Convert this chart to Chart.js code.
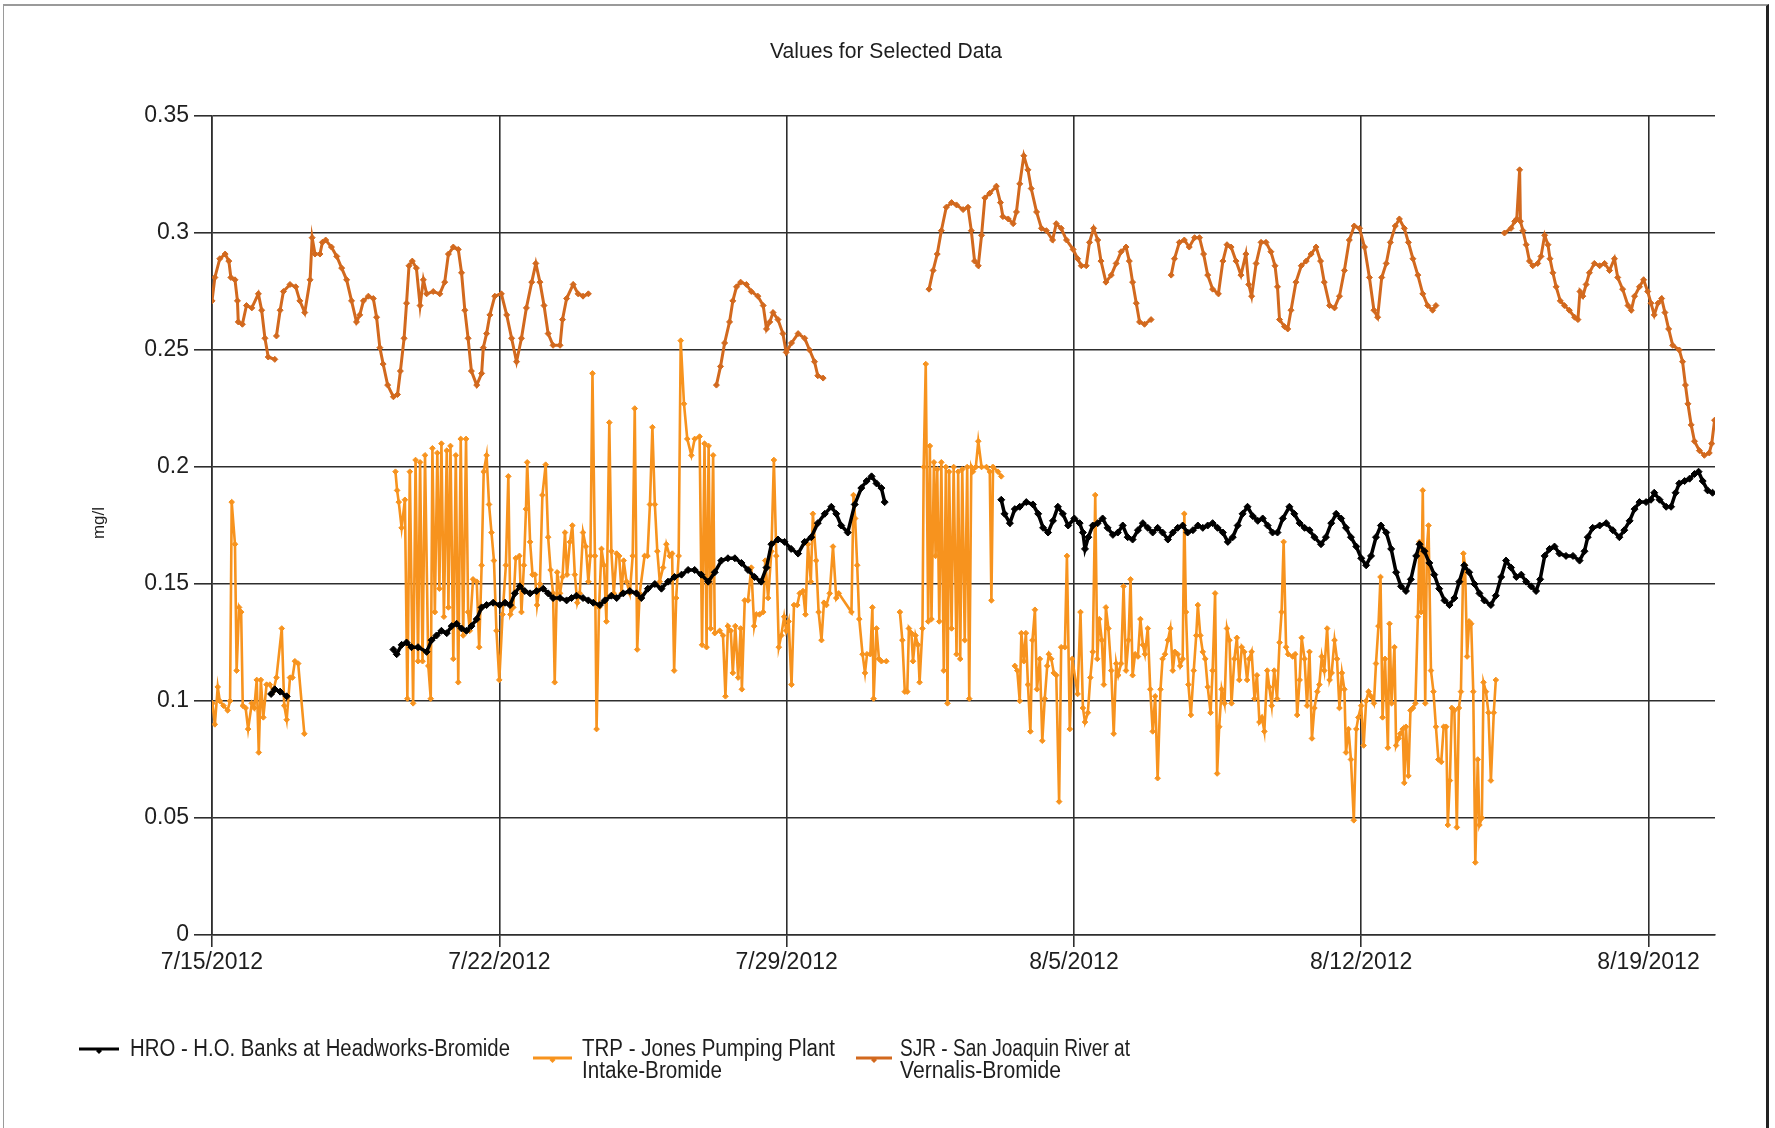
<!DOCTYPE html>
<html>
<head>
<meta charset="utf-8">
<title>Values for Selected Data</title>
<script src="https://cdn.jsdelivr.net/npm/chart.js@4.4.1/dist/chart.umd.min.js"></script>
<style>
  html, body { margin: 0; padding: 0; background: #fff; overflow: hidden; }
  #frame {
    position: absolute; left: 3px; top: 4px; width: 1762px; height: 1140px;
    border-top: 2px solid #9a9a9a; border-left: 1px solid #9a9a9a; border-right: 3px solid #222;
  }
  #chart { position: absolute; left: 0; top: 0; }
</style>
</head>
<body>
<div id="frame"></div>
<canvas id="chart" width="1775" height="1128"></canvas>
<script>
// ── Axis ticks ── (x values are days after 7/15/2012 00:00)
var xTickDays = [0, 7, 14, 21, 28, 35];
var xTickLabels = ['7/15/2012', '7/22/2012', '7/29/2012', '8/5/2012', '8/12/2012', '8/19/2012'];
var yTickValues = [0, 0.05, 0.1, 0.15, 0.2, 0.25, 0.3, 0.35];
var yTickLabels = ['0', '0.05', '0.1', '0.15', '0.2', '0.25', '0.3', '0.35'];

var seriesLabels = [
  ['HRO - H.O. Banks at Headworks-Bromide'],
  ['TRP - Jones Pumping Plant', 'Intake-Bromide'],
  ['SJR - San Joaquin River at', 'Vernalis-Bromide']
];

// ── HRO (black) ── null = gap in record
var hroDays = [1.44, 1.53, 1.66, 1.82, 3.0,
  4.42, 4.50, 4.62, 4.74, 4.86, 5.02, 5.23, 5.35, 5.47, 5.59, 5.72, 5.84, 5.96, 6.08, 6.20, 6.32, 6.45, 6.57, 6.69, 6.85,
  7.01, 7.14, 7.26, 7.38, 7.50, 7.62, 7.75, 7.91, 8.07, 8.19, 8.31, 8.48, 8.64, 8.76, 8.88, 9.04, 9.17, 9.29, 9.45, 9.57,
  9.73, 9.86, 10.02, 10.18, 10.34, 10.46, 10.62, 10.79, 10.95, 11.11, 11.27, 11.44, 11.60, 11.76, 11.92, 12.09, 12.25,
  12.41, 12.57, 12.74, 12.90, 13.06, 13.22, 13.38, 13.51, 13.63, 13.79, 13.95, 14.11, 14.28, 14.44, 14.60, 14.76, 14.93,
  15.09, 15.21, 15.33, 15.49, 15.66, 15.82, 15.95, 16.07, 16.19, 16.31, 16.39, 17.8,
  19.23, 19.31, 19.44, 19.56, 19.68, 19.84, 20.00, 20.13, 20.25, 20.37, 20.49, 20.61, 20.73, 20.86, 21.01, 21.14, 21.22,
  21.27, 21.35, 21.46, 21.58, 21.70, 21.82, 21.95, 22.07, 22.19, 22.31, 22.43, 22.56, 22.68, 22.80, 22.92, 23.04, 23.16,
  23.29, 23.41, 23.53, 23.65, 23.77, 23.90, 24.02, 24.14, 24.26, 24.38, 24.50, 24.63, 24.75, 24.87, 24.99, 25.11, 25.23,
  25.36, 25.48, 25.60, 25.72, 25.84, 25.96, 26.09, 26.25, 26.37, 26.50, 26.62, 26.74, 26.86, 27.02, 27.14, 27.27, 27.39,
  27.51, 27.63, 27.75, 27.88, 28.00, 28.12, 28.24, 28.36, 28.48, 28.61, 28.73, 28.85, 28.97, 29.09, 29.21, 29.34, 29.42,
  29.54, 29.66, 29.78, 29.90, 30.03, 30.15, 30.27, 30.39, 30.51, 30.63, 30.76, 30.88, 31.00, 31.16, 31.28, 31.41, 31.53,
  31.65, 31.78, 31.90, 32.02, 32.14, 32.26, 32.36, 32.47, 32.59, 32.71, 32.83, 32.99, 33.16, 33.32, 33.44, 33.52, 33.64,
  33.81, 33.97, 34.13, 34.29, 34.41, 34.54, 34.66, 34.78, 34.94, 35.06, 35.14, 35.27, 35.43, 35.55, 35.66, 35.75, 35.88,
  36.00, 36.12, 36.22, 36.32, 36.44, 36.56];
var hroValues = [0.103, 0.105, 0.104, 0.102, null,
  0.122, 0.120, 0.124, 0.125, 0.123, 0.123, 0.121, 0.126, 0.128, 0.130, 0.129, 0.132, 0.133, 0.131, 0.130, 0.132, 0.135, 0.140, 0.141, 0.142,
  0.141, 0.142, 0.141, 0.146, 0.149, 0.147, 0.146, 0.147, 0.148, 0.146, 0.144, 0.144, 0.143, 0.144, 0.145, 0.144, 0.143, 0.142, 0.141, 0.143,
  0.145, 0.144, 0.146, 0.147, 0.146, 0.144, 0.148, 0.150, 0.148, 0.151, 0.153, 0.154, 0.156, 0.156, 0.154, 0.151, 0.155,
  0.160, 0.161, 0.161, 0.159, 0.156, 0.153, 0.151, 0.157, 0.167, 0.169, 0.168, 0.165, 0.163, 0.168, 0.170, 0.176, 0.180,
  0.183, 0.180, 0.175, 0.172, 0.184, 0.191, 0.194, 0.196, 0.193, 0.191, 0.185, null,
  0.186, 0.180, 0.176, 0.182, 0.183, 0.185, 0.184, 0.180, 0.174, 0.172, 0.177, 0.183, 0.180, 0.175, 0.178, 0.176, 0.172,
  0.165, 0.170, 0.175, 0.176, 0.178, 0.174, 0.171, 0.172, 0.175, 0.170, 0.169, 0.173, 0.176, 0.174, 0.172, 0.174, 0.172,
  0.169, 0.172, 0.174, 0.175, 0.172, 0.173, 0.175, 0.174, 0.175, 0.176, 0.174, 0.172, 0.168, 0.170, 0.175, 0.180, 0.183,
  0.179, 0.177, 0.178, 0.175, 0.172, 0.172, 0.178, 0.183, 0.180, 0.176, 0.174, 0.173, 0.170, 0.167, 0.170, 0.176, 0.180,
  0.178, 0.174, 0.170, 0.166, 0.161, 0.158, 0.162, 0.170, 0.175, 0.172, 0.165, 0.155, 0.149, 0.147, 0.152, 0.162, 0.167,
  0.164, 0.159, 0.154, 0.148, 0.143, 0.141, 0.144, 0.151, 0.158, 0.155, 0.150, 0.146, 0.143, 0.141, 0.145, 0.153, 0.160,
  0.157, 0.153, 0.154, 0.151, 0.149, 0.147, 0.152, 0.162, 0.165, 0.166, 0.163, 0.162, 0.162, 0.160, 0.164, 0.170, 0.174,
  0.175, 0.176, 0.173, 0.170, 0.173, 0.177, 0.182, 0.185, 0.185, 0.186, 0.189, 0.186, 0.183, 0.183, 0.189, 0.193, 0.194,
  0.195, 0.197, 0.198, 0.194, 0.190, 0.189];

// ── TRP (bright orange) ──
var trpDays = [0.01, 0.07, 0.14, 0.19, 0.28, 0.38, 0.44, 0.48, 0.56, 0.60, 0.66, 0.71, 0.75, 0.82, 0.88, 0.97, 1.03, 1.09,
  1.14, 1.19, 1.25, 1.33, 1.41, 1.49, 1.57, 1.70, 1.76, 1.82, 1.90, 1.96, 2.02, 2.10, 2.25, 3.3,
  4.47, 4.51, 4.55, 4.62, 4.70, 4.76, 4.82, 4.90, 4.96, 5.02, 5.07, 5.13, 5.19, 5.27, 5.33, 5.37, 5.43, 5.49, 5.54, 5.59,
  5.65, 5.72, 5.76, 5.81, 5.88, 5.94, 6.00, 6.06, 6.12, 6.19, 6.24, 6.28, 6.36, 6.45, 6.51, 6.57, 6.62, 6.69, 6.75, 6.81,
  6.87, 6.93, 7.00, 7.08, 7.16, 7.22, 7.27, 7.34, 7.40, 7.49, 7.54, 7.60, 7.65, 7.68, 7.75, 7.81, 7.87, 7.92, 7.99, 8.05,
  8.13, 8.19, 8.25, 8.31, 8.35, 8.41, 8.48, 8.54, 8.60, 8.65, 8.72, 8.78, 8.84, 8.90, 8.96, 9.04, 9.11, 9.17, 9.22, 9.27,
  9.33, 9.37, 9.43, 9.49, 9.55, 9.61, 9.68, 9.73, 9.79, 9.86, 9.92, 9.98, 10.03, 10.10, 10.18, 10.25, 10.30, 10.36, 10.42,
  10.54, 10.61, 10.67, 10.73, 10.79, 10.85, 10.91, 10.99, 11.07, 11.15, 11.21, 11.26, 11.31, 11.37, 11.42, 11.50, 11.58,
  11.68, 11.76, 11.88, 11.94, 12.00, 12.05, 12.10, 12.15, 12.21, 12.25, 12.37, 12.45, 12.51, 12.57, 12.64, 12.69, 12.75,
  12.82, 12.88, 12.91, 12.98, 13.06, 13.14, 13.21, 13.26, 13.34, 13.43, 13.48, 13.55, 13.63, 13.69, 13.75, 13.81, 13.87,
  13.94, 13.99, 14.05, 14.12, 14.18, 14.26, 14.32, 14.40, 14.46, 14.52, 14.59, 14.64, 14.72, 14.78, 14.85, 14.91, 14.97,
  15.05, 15.13, 15.21, 15.27, 15.58, 15.63, 15.67, 15.72, 15.77, 15.85, 15.91, 15.96, 16.04, 16.09, 16.12, 16.19, 16.25,
  16.31, 16.43, 16.6,
  16.76, 16.82, 16.88, 16.94, 16.98, 17.04, 17.08, 17.14, 17.20, 17.24, 17.31, 17.34, 17.39, 17.45, 17.49, 17.53, 17.59,
  17.63, 17.67, 17.72, 17.77, 17.83, 17.88, 17.92, 17.96, 18.02, 18.07, 18.14, 18.18, 18.23, 18.28, 18.34, 18.40, 18.45,
  18.50, 18.54, 18.61, 18.67, 18.75, 18.87, 18.95, 18.99, 19.03, 19.15, 19.23, 19.4,
  19.56, 19.62, 19.68, 19.72, 19.78, 19.83, 19.88, 19.94, 19.99, 20.05, 20.10, 20.17, 20.23, 20.29, 20.35, 20.39, 20.45,
  20.51, 20.57, 20.64, 20.69, 20.78, 20.83, 20.90, 20.96, 21.09, 21.16, 21.22, 21.27, 21.34, 21.40, 21.46, 21.52, 21.57,
  21.62, 21.68, 21.73, 21.78, 21.84, 21.91, 21.97, 22.03, 22.08, 22.15, 22.21, 22.27, 22.33, 22.38, 22.43, 22.49, 22.56,
  22.62, 22.68, 22.73, 22.80, 22.86, 22.92, 22.98, 23.04, 23.11, 23.16, 23.22, 23.29, 23.35, 23.41, 23.46, 23.53, 23.59,
  23.65, 23.69, 23.73, 23.79, 23.85, 23.92, 23.98, 24.02, 24.08, 24.14, 24.20, 24.26, 24.33, 24.38, 24.44, 24.49, 24.54,
  24.60, 24.67, 24.73, 24.79, 24.84, 24.91, 24.97, 25.03, 25.09, 25.15, 25.22, 25.27, 25.33, 25.40, 25.46, 25.52, 25.58,
  25.64, 25.71, 25.76, 25.82, 25.88, 25.95, 26.01, 26.06, 26.11, 26.17, 26.22, 26.33, 26.39, 26.44, 26.50, 26.55, 26.62,
  26.68, 26.74, 26.80, 26.86, 26.93, 26.98, 27.04, 27.10, 27.17, 27.23, 27.28, 27.35, 27.41, 27.47, 27.53, 27.59, 27.63,
  27.69, 27.75, 27.82, 27.88, 27.93, 28.00, 28.06, 28.12, 28.18, 28.24, 28.31, 28.36, 28.42, 28.47, 28.52, 28.58, 28.65,
  28.69, 28.74, 28.81, 28.85, 28.91, 28.95, 29.01, 29.05, 29.09, 29.15, 29.20, 29.26, 29.32, 29.38, 29.42, 29.46, 29.50,
  29.56, 29.60, 29.64, 29.70, 29.76, 29.82, 29.88, 29.95, 30.01, 30.07, 30.11, 30.16, 30.21, 30.27, 30.33, 30.38, 30.43,
  30.49, 30.53, 30.58, 30.63, 30.68, 30.73, 30.78, 30.84, 30.88, 30.94, 30.98, 31.04, 31.10, 31.16, 31.23, 31.28];
var trpValues = [0.099, 0.090, 0.106, 0.100, 0.098, 0.096, 0.100, 0.185, 0.167, 0.113, 0.140, 0.138, 0.098, 0.097, 0.088, 0.099, 0.097, 0.109,
  0.078, 0.109, 0.093, 0.107, 0.107, 0.104, 0.110, 0.131, 0.098, 0.092, 0.110, 0.110, 0.117, 0.116, 0.086, null,
  0.198, 0.190, 0.185, 0.174, 0.186, 0.101, 0.198, 0.099, 0.203, 0.117, 0.202, 0.117, 0.205, 0.115, 0.101, 0.208, 0.138, 0.206, 0.148, 0.210,
  0.136, 0.207, 0.140, 0.209, 0.118, 0.205, 0.108, 0.212, 0.128, 0.212, 0.138, 0.130, 0.152, 0.151, 0.123, 0.158, 0.198, 0.205, 0.184, 0.172,
  0.160, 0.130, 0.109, 0.137, 0.158, 0.196, 0.137, 0.140, 0.161, 0.162, 0.138, 0.158, 0.182, 0.202, 0.168, 0.154, 0.154, 0.141, 0.150, 0.188,
  0.201, 0.170, 0.156, 0.146, 0.108, 0.155, 0.146, 0.153, 0.172, 0.154, 0.168, 0.175, 0.154, 0.142, 0.146, 0.172, 0.166, 0.151, 0.162, 0.240,
  0.162, 0.088, 0.140, 0.165, 0.158, 0.134, 0.219, 0.164, 0.146, 0.163, 0.162, 0.146, 0.160, 0.151, 0.146, 0.162, 0.225, 0.122, 0.146,
  0.162, 0.162, 0.184, 0.217, 0.184, 0.164, 0.151, 0.157, 0.167, 0.162, 0.163, 0.113, 0.144, 0.162, 0.254, 0.227, 0.212,
  0.205, 0.212, 0.213, 0.124, 0.210, 0.123, 0.209, 0.131, 0.205, 0.129, 0.130, 0.128, 0.102, 0.132, 0.130, 0.112, 0.132,
  0.110, 0.131, 0.105, 0.143, 0.143, 0.157, 0.132, 0.137, 0.137, 0.138, 0.160, 0.144, 0.164, 0.203, 0.162, 0.123, 0.128,
  0.136, 0.130, 0.134, 0.107, 0.141, 0.141, 0.146, 0.147, 0.137, 0.167, 0.151, 0.180, 0.160, 0.138, 0.126, 0.142, 0.141,
  0.146, 0.166, 0.144, 0.146, 0.138, 0.188, 0.178, 0.158, 0.135, 0.120, 0.112, 0.120, 0.120, 0.140, 0.101, 0.131, 0.118,
  0.117, 0.117, null,
  0.138, 0.126, 0.104, 0.104, 0.131, 0.129, 0.117, 0.128, 0.124, 0.108, 0.131, 0.200, 0.244, 0.134, 0.209, 0.135, 0.202,
  0.162, 0.199, 0.134, 0.202, 0.113, 0.200, 0.099, 0.198, 0.131, 0.200, 0.120, 0.198, 0.118, 0.199, 0.126, 0.200, 0.101,
  0.200, 0.198, 0.200, 0.211, 0.200, 0.200, 0.198, 0.143, 0.200, 0.198, 0.196, null,
  0.115, 0.113, 0.100, 0.129, 0.117, 0.129, 0.107, 0.087, 0.126, 0.139, 0.105, 0.118, 0.083, 0.101, 0.115, 0.120, 0.118,
  0.112, 0.111, 0.057, 0.123, 0.123, 0.162, 0.088, 0.118, 0.103, 0.138, 0.097, 0.091, 0.095, 0.110, 0.121, 0.188, 0.118,
  0.135, 0.126, 0.107, 0.140, 0.131, 0.113, 0.086, 0.116, 0.111, 0.116, 0.149, 0.113, 0.126, 0.152, 0.111, 0.120, 0.119,
  0.135, 0.124, 0.120, 0.131, 0.105, 0.087, 0.102, 0.067, 0.105, 0.118, 0.120, 0.126, 0.131, 0.113, 0.121, 0.120, 0.115,
  0.118, 0.180, 0.138, 0.107, 0.094, 0.113, 0.128, 0.141, 0.128, 0.121, 0.118, 0.106, 0.095, 0.113, 0.146, 0.069, 0.089,
  0.105, 0.099, 0.131, 0.126, 0.099, 0.118, 0.127, 0.109, 0.123, 0.121, 0.109, 0.118, 0.121, 0.101, 0.111, 0.091, 0.093,
  0.087, 0.113, 0.106, 0.098, 0.113, 0.101, 0.125, 0.138, 0.168, 0.123, 0.120, 0.119, 0.120, 0.094, 0.109, 0.127, 0.118,
  0.098, 0.121, 0.084, 0.097, 0.104, 0.107, 0.119, 0.113, 0.131, 0.109, 0.112, 0.126, 0.118, 0.097, 0.112, 0.105, 0.078,
  0.088, 0.075, 0.049, 0.088, 0.093, 0.098, 0.081, 0.100, 0.104, 0.102, 0.099, 0.116, 0.132, 0.153, 0.093, 0.118, 0.080,
  0.133, 0.099, 0.123, 0.081, 0.084, 0.086, 0.088, 0.065, 0.089, 0.068, 0.096, 0.097, 0.099, 0.136, 0.168, 0.138, 0.190,
  0.099, 0.165, 0.175, 0.113, 0.104, 0.089, 0.075, 0.074, 0.089, 0.089, 0.047, 0.066, 0.097, 0.096, 0.046, 0.097, 0.104,
  0.163, 0.158, 0.119, 0.134, 0.133, 0.104, 0.031, 0.075, 0.047, 0.050, 0.108, 0.104, 0.095, 0.066, 0.095, 0.109];

// ── SJR (dark orange) ──
var sjrDays = [0.00, 0.07, 0.19, 0.32, 0.41, 0.46, 0.56, 0.62, 0.64, 0.74, 0.84, 0.97, 1.13, 1.21, 1.29, 1.37, 1.53, 1.55,
  1.57, 1.66, 1.74, 1.90, 2.04, 2.14, 2.26, 2.39, 2.44, 2.51, 2.63, 2.69, 2.77, 2.91, 3.04, 3.16, 3.28, 3.40, 3.52, 3.60,
  3.69, 3.81, 3.93, 4.01, 4.09, 4.17, 4.28, 4.42, 4.52, 4.59, 4.68, 4.74, 4.80, 4.88, 4.98, 5.07, 5.15, 5.23, 5.39, 5.55,
  5.67, 5.76, 5.88, 6.00, 6.08, 6.16, 6.24, 6.32, 6.45, 6.57, 6.61, 6.69, 6.77, 6.89, 7.05, 7.18, 7.30, 7.42, 7.54, 7.66,
  7.79, 7.89, 7.99, 8.09, 8.19, 8.31, 8.48, 8.54, 8.64, 8.80, 8.92, 9.04, 9.17, 10.5,
  12.29, 12.39, 12.49, 12.61, 12.69, 12.78, 12.88, 13.02, 13.14, 13.30, 13.43, 13.51, 13.59, 13.67, 13.79, 13.91, 13.99,
  14.12, 14.28, 14.44, 14.56, 14.68, 14.76, 14.89, 16.0,
  17.47, 17.57, 17.67, 17.77, 17.89, 18.02, 18.14, 18.30, 18.42, 18.50, 18.58, 18.67, 18.75, 18.83, 18.95, 19.11, 19.21,
  19.27, 19.40, 19.52, 19.60, 19.68, 19.78, 19.88, 19.96, 20.09, 20.21, 20.33, 20.48, 20.57, 20.69, 20.82, 20.98, 21.09,
  21.18, 21.30, 21.38, 21.48, 21.58, 21.66, 21.78, 21.91, 22.03, 22.15, 22.27, 22.35, 22.43, 22.52, 22.60, 22.72, 22.88, 23.1,
  23.37, 23.45, 23.57, 23.69, 23.81, 23.94, 24.06, 24.16, 24.26, 24.38, 24.52, 24.63, 24.73, 24.83, 24.95, 25.07, 25.19,
  25.26, 25.33, 25.44, 25.56, 25.68, 25.80, 25.90, 25.96, 26.01, 26.13, 26.21, 26.29, 26.41, 26.54, 26.66, 26.78, 26.90,
  27.01, 27.10, 27.23, 27.35, 27.47, 27.59, 27.71, 27.83, 27.96, 28.08, 28.20, 28.31, 28.40, 28.50, 28.61, 28.71, 28.83,
  28.93, 29.05, 29.15, 29.26, 29.38, 29.50, 29.62, 29.74, 29.82, 30.5,
  31.49, 31.65, 31.74, 31.79, 31.86, 31.88, 31.94, 32.02, 32.10, 32.18, 32.30, 32.38, 32.47, 32.55, 32.60, 32.67, 32.75,
  32.85, 32.95, 33.07, 33.20, 33.28, 33.33, 33.40, 33.48, 33.56, 33.68, 33.81, 33.93, 34.05, 34.17, 34.25, 34.37, 34.50,
  34.58, 34.66, 34.78, 34.88, 34.98, 35.06, 35.14, 35.23, 35.32, 35.40, 35.49, 35.59, 35.75, 35.83, 35.90, 35.96, 36.04,
  36.12, 36.24, 36.36, 36.48, 36.54, 36.61];
var sjrValues = [0.271, 0.281, 0.289, 0.291, 0.288, 0.281, 0.280, 0.271, 0.262, 0.261, 0.269, 0.268, 0.274, 0.267, 0.255, 0.247, 0.246, null,
  0.256, 0.267, 0.275, 0.278, 0.277, 0.271, 0.266, 0.280, 0.298, 0.291, 0.291, 0.296, 0.297, 0.294, 0.290, 0.285, 0.280, 0.271, 0.262, 0.265,
  0.271, 0.273, 0.272, 0.264, 0.251, 0.244, 0.235, 0.230, 0.231, 0.241, 0.255, 0.270, 0.286, 0.288, 0.285, 0.269, 0.280, 0.274, 0.275, 0.274,
  0.279, 0.291, 0.294, 0.293, 0.283, 0.267, 0.255, 0.241, 0.235, 0.240, 0.251, 0.257, 0.265, 0.273, 0.274, 0.265, 0.255, 0.245, 0.255, 0.268,
  0.279, 0.287, 0.279, 0.269, 0.257, 0.252, 0.252, 0.263, 0.272, 0.278, 0.274, 0.273, 0.274, null,
  0.235, 0.243, 0.253, 0.262, 0.271, 0.277, 0.279, 0.278, 0.275, 0.273, 0.269, 0.259, 0.262, 0.266, 0.263, 0.257, 0.249,
  0.253, 0.257, 0.255, 0.250, 0.245, 0.239, 0.238, null,
  0.276, 0.284, 0.291, 0.301, 0.311, 0.313, 0.312, 0.310, 0.311, 0.301, 0.288, 0.286, 0.299, 0.315, 0.317, 0.320, 0.313,
  0.307, 0.306, 0.304, 0.309, 0.321, 0.333, 0.327, 0.319, 0.309, 0.302, 0.301, 0.297, 0.304, 0.302, 0.297, 0.293, 0.289,
  0.286, 0.286, 0.296, 0.302, 0.297, 0.288, 0.279, 0.282, 0.287, 0.292, 0.294, 0.288, 0.279, 0.270, 0.262, 0.261, 0.263, null,
  0.282, 0.289, 0.296, 0.297, 0.294, 0.298, 0.298, 0.291, 0.282, 0.276, 0.274, 0.288, 0.295, 0.294, 0.288, 0.282, 0.291,
  0.278, 0.273, 0.287, 0.296, 0.296, 0.292, 0.286, 0.277, 0.263, 0.260, 0.259, 0.267, 0.279, 0.286, 0.288, 0.291, 0.294,
  0.288, 0.279, 0.269, 0.268, 0.273, 0.284, 0.297, 0.303, 0.302, 0.294, 0.281, 0.267, 0.264, 0.281, 0.287, 0.296, 0.303,
  0.306, 0.302, 0.296, 0.289, 0.282, 0.274, 0.269, 0.267, 0.269, null,
  0.300, 0.302, 0.305, 0.306, 0.327, 0.305, 0.301, 0.295, 0.288, 0.286, 0.287, 0.290, 0.299, 0.295, 0.289, 0.283, 0.277,
  0.271, 0.269, 0.267, 0.264, 0.263, 0.275, 0.273, 0.278, 0.283, 0.287, 0.286, 0.287, 0.284, 0.289, 0.281, 0.276, 0.269,
  0.267, 0.273, 0.277, 0.280, 0.275, 0.270, 0.265, 0.270, 0.272, 0.266, 0.259, 0.252, 0.250, 0.245, 0.235, 0.227, 0.218,
  0.211, 0.207, 0.205, 0.206, 0.210, 0.220];

var xMax = 36.62;

var HRO_COLOR = '#000000';
var TRP_COLOR = '#F7931E';
var SJR_COLOR = '#D2691E';
var GRID = '#2e2e2e';
var TEXT = '#1e1e1e';

function toPoints(days, vals) {
  return days.map(function (d, i) { return { x: d, y: vals[i] }; });
}

// title, y axis caption and the two-line legend under the plot
var decorations = {
  id: 'decorations',
  afterDraw: function (chart) {
    var ctx = chart.ctx;
    ctx.save();
    ctx.fillStyle = TEXT;
    ctx.textBaseline = 'middle';

    ctx.font = '22px "Liberation Sans", Arial, sans-serif';
    ctx.textAlign = 'center';
    ctx.fillText('Values for Selected Data', 886, 52, 232);

    ctx.save();
    ctx.translate(99, 523);
    ctx.rotate(-Math.PI / 2);
    ctx.font = '17px "Liberation Sans", Arial, sans-serif';
    ctx.fillText('mg/l', 0, 0);
    ctx.restore();

    var items = [
      { color: HRO_COLOR, x0: 79, x1: 119, ly: 1049, tx: 130, widths: [380] },
      { color: TRP_COLOR, x0: 533, x1: 572, ly: 1058, tx: 582, widths: [253, 140] },
      { color: SJR_COLOR, x0: 856, x1: 892, ly: 1058, tx: 900, widths: [230, 161] }
    ];
    ctx.textAlign = 'left';
    ctx.font = '23px "Liberation Sans", Arial, sans-serif';
    items.forEach(function (it, i) {
      ctx.strokeStyle = it.color;
      ctx.lineWidth = 3;
      ctx.beginPath();
      ctx.moveTo(it.x0, it.ly);
      ctx.lineTo(it.x1, it.ly);
      ctx.stroke();
      ctx.fillStyle = it.color;
      var cx = (it.x0 + it.x1) / 2;
      ctx.beginPath();
      ctx.moveTo(cx, it.ly - 1);
      ctx.lineTo(cx + 3, it.ly + 2);
      ctx.lineTo(cx, it.ly + 5);
      ctx.lineTo(cx - 3, it.ly + 2);
      ctx.closePath();
      ctx.fill();
      ctx.fillStyle = TEXT;
      seriesLabels[i].forEach(function (line, k) {
        ctx.fillText(line, it.tx, 1050 + k * 22, it.widths[k]);
      });
    });
    ctx.restore();
  }
};

var ctx = document.getElementById('chart').getContext('2d');
var chart = new Chart(ctx, {
  type: 'line',
  data: {
    datasets: [
      {
        label: seriesLabels[0].join(' '),
        data: toPoints(hroDays, hroValues),
        borderColor: HRO_COLOR,
        backgroundColor: HRO_COLOR,
        borderWidth: 3.5,
        pointStyle: 'rectRot',
        pointRadius: 3.5,
        pointBorderWidth: 1,
        pointBackgroundColor: HRO_COLOR,
        pointBorderColor: HRO_COLOR
      },
      {
        label: seriesLabels[1].join(' '),
        data: toPoints(trpDays, trpValues),
        borderColor: TRP_COLOR,
        backgroundColor: TRP_COLOR,
        borderWidth: 2.6,
        pointStyle: 'rectRot',
        pointRadius: 2.8,
        pointBorderWidth: 1,
        pointBackgroundColor: TRP_COLOR,
        pointBorderColor: TRP_COLOR
      },
      {
        label: seriesLabels[2].join(' '),
        data: toPoints(sjrDays, sjrValues),
        borderColor: SJR_COLOR,
        backgroundColor: SJR_COLOR,
        borderWidth: 3,
        pointStyle: 'rectRot',
        pointRadius: 3,
        pointBorderWidth: 1,
        pointBackgroundColor: SJR_COLOR,
        pointBorderColor: SJR_COLOR
      }
    ]
  },
  options: {
    responsive: false,
    animation: false,
    spanGaps: false,
    layout: { padding: { left: 122, top: 116, right: 60, bottom: 133 } },
    plugins: {
      legend: { display: false },
      title: { display: false },
      tooltip: { enabled: false }
    },
    elements: { line: { tension: 0 } },
    scales: {
      x: {
        type: 'linear',
        min: 0,
        max: xMax,
        afterBuildTicks: function (scale) {
          scale.ticks = xTickDays.map(function (v) { return { value: v }; });
        },
        afterFit: function (scale) { scale.height = 60; },
        grid: { color: GRID, lineWidth: 1.6, tickLength: 12, tickColor: GRID },
        border: { display: true, color: GRID, width: 1.6 },
        ticks: {
          color: TEXT,
          padding: 2,
          maxRotation: 0,
          font: { family: '"Liberation Sans", Arial, sans-serif', size: 23 },
          callback: function (value) {
            var i = xTickDays.indexOf(value);
            return i >= 0 ? xTickLabels[i] : '';
          }
        }
      },
      y: {
        type: 'linear',
        min: 0,
        max: 0.35,
        afterBuildTicks: function (scale) {
          scale.ticks = yTickValues.map(function (v) { return { value: v }; });
        },
        afterFit: function (scale) { scale.width = 90; },
        grid: { color: GRID, lineWidth: 1.6, tickLength: 18, tickColor: GRID },
        border: { display: true, color: GRID, width: 1.6 },
        ticks: {
          color: TEXT,
          padding: 5,
          font: { family: '"Liberation Sans", Arial, sans-serif', size: 23 },
          callback: function (value, index) { return yTickLabels[index]; }
        }
      }
    }
  },
  plugins: [decorations]
});
</script>
</body>
</html>
